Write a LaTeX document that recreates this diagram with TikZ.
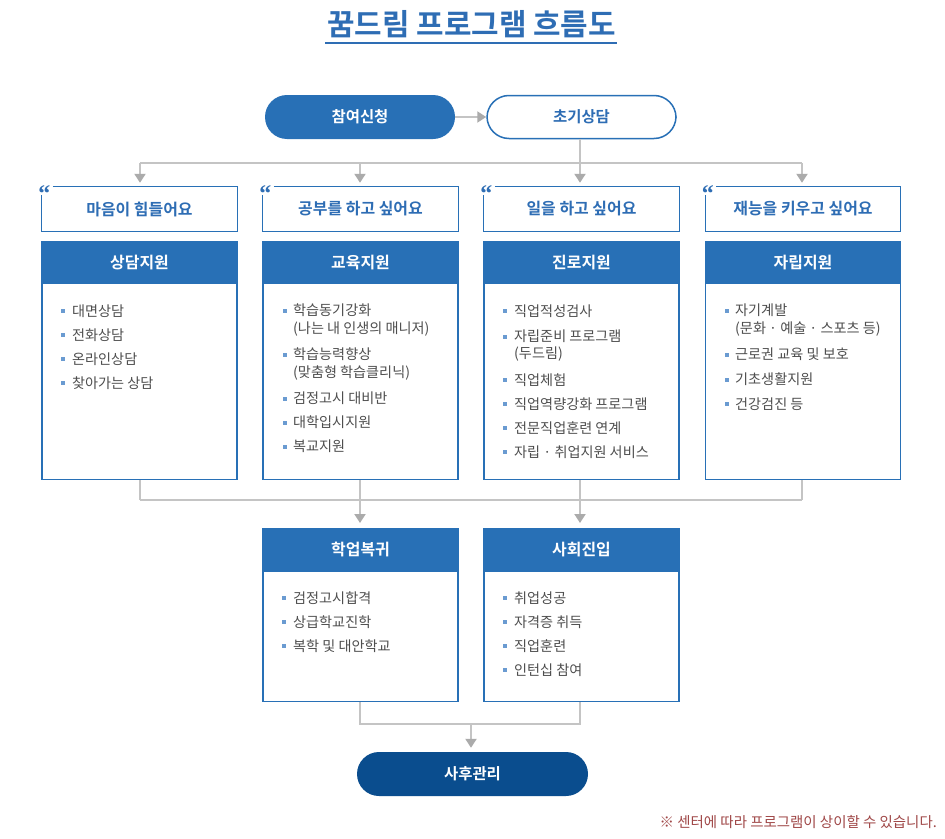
\documentclass[tikz,border=0pt]{standalone}
\usepackage{fontspec}
\setmainfont{Noto Sans CJK KR}[BoldFont={Noto Sans CJK KR Bold}]
\newfontfamily\qfont{Liberation Serif}
\usetikzlibrary{arrows.meta}
\definecolor{mblue}{HTML}{2870B6}
\definecolor{tblue}{HTML}{2E6DB4}
\definecolor{dblue}{HTML}{0A4D8E}
\definecolor{lgray}{HTML}{C4C4C4}
\definecolor{agray}{HTML}{ABABAB}
\definecolor{txt}{HTML}{4E4E4E}
\definecolor{bul}{HTML}{6A9BD1}
\definecolor{note}{HTML}{A04848}
\tikzset{
  conn/.style={draw=lgray, line width=2bp},
  arr/.style={-{Triangle[width=11bp,length=9bp,color=agray]}},
  pillfill/.style={fill=mblue, rounded corners=22bp, minimum width=190bp, minimum height=44bp, text=white, font=\fontsize{15.5}{18}\selectfont\bfseries},
  pillline/.style={draw=mblue, line width=1.5bp, fill=white, rounded corners=22bp, minimum width=189bp, minimum height=43bp, text=tblue, font=\fontsize{15.5}{18}\selectfont\bfseries},
  pilldark/.style={fill=dblue, rounded corners=22bp, minimum width=231bp, minimum height=44bp, text=white, font=\fontsize{15.5}{18}\selectfont\bfseries},
  qbox/.style={minimum width=195bp, minimum height=44bp, inner sep=0pt, text=tblue, font=\fontsize{16}{18}\selectfont\bfseries},
  qborder/.style={draw=mblue, line width=1.2bp},
  qmark/.style={text=tblue, font=\qfont\fontsize{24}{24}\selectfont\bfseries, inner sep=0pt},
  headbox/.style={fill=mblue, draw=mblue, line width=1.2bp, minimum width=195bp, minimum height=42bp, inner sep=0pt, text=white, font=\fontsize{16}{18}\selectfont\bfseries, anchor=north},
  bodybox/.style={draw=mblue, line width=1.2bp, fill=white, minimum width=195bp, inner sep=0pt, anchor=north},
  item/.style={anchor=west, inner sep=0pt, text=txt, align=left, font=\fontsize{14.2}{18}\selectfont},
  bullet/.style={fill=bul, minimum size=4bp, inner sep=0pt},
}
\begin{document}
\begin{tikzpicture}[x=1bp, y=-1bp]
\useasboundingbox (0,0) rectangle (945,839);
\fill[white] (0,0) rectangle (945,839);

% title
\node[text=tblue, font=\fontsize{30}{32}\selectfont\bfseries, inner sep=0pt] (title) at (471.5,24) {꿈드림 프로그램 흐름도};
\draw[tblue, line width=1.6bp] (325,43) -- (617,43);

% top pills
\node[pillfill] (apply) at (360,117) {참여신청};
\node[pillline] (consult) at (581.5,117) {초기상담};
\draw[conn, arr] (apply) -- (consult);

% quote boxes
\foreach \i/\x/\t in {1/139.5/마음이 힘들어요, 2/360.5/공부를 하고 싶어요, 3/581.5/일을 하고 싶어요, 4/803/재능을 키우고 싶어요}{
  \node[qbox] (q\i) at (\x,209) {\t};
  \draw[qborder] ([xshift=11bp]q\i.north west) -| (q\i.south east) -| ([yshift=-8bp]q\i.north west);
  \node[qmark] (qm\i) at ([xshift=2.5bp,yshift=-7bp]q\i.north west) {“};
}

% top tree
\coordinate (tj) at (580,163);
\coordinate (tl) at (140,163);
\coordinate (tr) at (802,163);
\draw[conn] (consult.south -| tj) -- (tj);
\draw[conn] (tl) -- (tr);
\foreach \i/\x in {1/140,2/360,3/580,4/802}{
  \coordinate (t\i) at (\x,163);
  \draw[conn, arr, shorten >=4bp] (t\i) -- (t\i |- q\i.north);
}

% header and body boxes
\foreach \i/\x/\t in {1/139.5/상담지원, 2/360.5/교육지원, 3/581.5/진로지원, 4/803/자립지원}{
  \node[bodybox, minimum height=196bp] (b\i) at (\x,283) {};
  \node[headbox] (h\i) at (\x,241) {\t};
}

% column 1 items
\foreach \y/\t in {311/대면상담, 335/전화상담, 359/온라인상담, 383/찾아가는 상담}{
  \node[bullet] at (63,\y) {};
  \node[item] at (72,\y) {\t};
}
% column 2 items
\foreach \y in {311,354.5,398.5,422.5,446.5}{
  \node[bullet] at (285,\y) {};
}
\node[item] at (293,320) {학습동기강화\\(나는 내 인생의 매니저)};
\node[item] at (293,364) {학습능력향상\\(맞춤형 학습클리닉)};
\node[item] at (293,398.5) {검정고시 대비반};
\node[item] at (293,422.5) {대학입시지원};
\node[item] at (293,446.5) {복교지원};
% column 3 items
\foreach \y in {311,336.5,380,404,428,452}{
  \node[bullet] at (505,\y) {};
}
\node[item] at (514,311) {직업적성검사};
\node[item] at (514,345.5) {자립준비 프로그램\\(두드림)};
\node[item] at (514,380) {직업체험};
\node[item] at (514,404) {직업역량강화 프로그램};
\node[item] at (514,428) {전문직업훈련 연계};
\node[item] at (514,452) {자립 · 취업지원 서비스};
% column 4 items
\foreach \y in {311,354.5,379.5,404}{
  \node[bullet] at (727,\y) {};
}
\node[item] at (735,320) {자기계발\\(문화 · 예술 · 스포츠 등)};
\node[item] at (735,354.5) {근로권 교육 및 보호};
\node[item] at (735,379.5) {기초생활지원};
\node[item] at (735,404) {건강검진 등};

% middle tree
\coordinate (m1) at (140,500);
\coordinate (m2) at (360,500);
\coordinate (m3) at (580,500);
\coordinate (m4) at (802,500);
\foreach \i in {1,2,3,4}{
  \draw[conn] (b\i.south -| m\i) -- (m\i);
}
\draw[conn] (m1) -- (m4);

% result boxes
\node[bodybox, minimum height=130bp] (r1) at (360.5,571) {};
\node[headbox] (rh1) at (360.5,528) {학업복귀};
\node[bodybox, minimum height=130bp] (r2) at (581.5,571) {};
\node[headbox] (rh2) at (581.5,528) {사회진입};
\draw[conn, arr, shorten >=5bp] (m2) -- (m2 |- rh1.north);
\draw[conn, arr, shorten >=5bp] (m3) -- (m3 |- rh2.north);

\foreach \y/\t in {598/검정고시합격, 622/상급학교진학, 646/복학 및 대안학교}{
  \node[bullet] at (284,\y) {};
  \node[item] at (293,\y) {\t};
}
\foreach \y/\t in {598/취업성공, 622/자격증 취득, 646/직업훈련, 670/인턴십 참여}{
  \node[bullet] at (505,\y) {};
  \node[item] at (514,\y) {\t};
}

% bottom tree
\node[pilldark] (after) at (472.5,774) {사후관리};
\coordinate (bl) at (360,724);
\coordinate (br) at (580,724);
\coordinate (bm) at (471,724);
\draw[conn] (r1.south -| bl) -- (bl) -- (br) -- (r2.south -| br);
\draw[conn, arr, shorten >=4bp] (bm) -- (bm |- after.north);

% footnote
\node[anchor=east, inner sep=0pt, text=note, font=\fontsize{14.5}{16}\selectfont] (foot) at (937,822) {※ 센터에 따라 프로그램이 상이할 수 있습니다.};
\end{tikzpicture}
\end{document}
